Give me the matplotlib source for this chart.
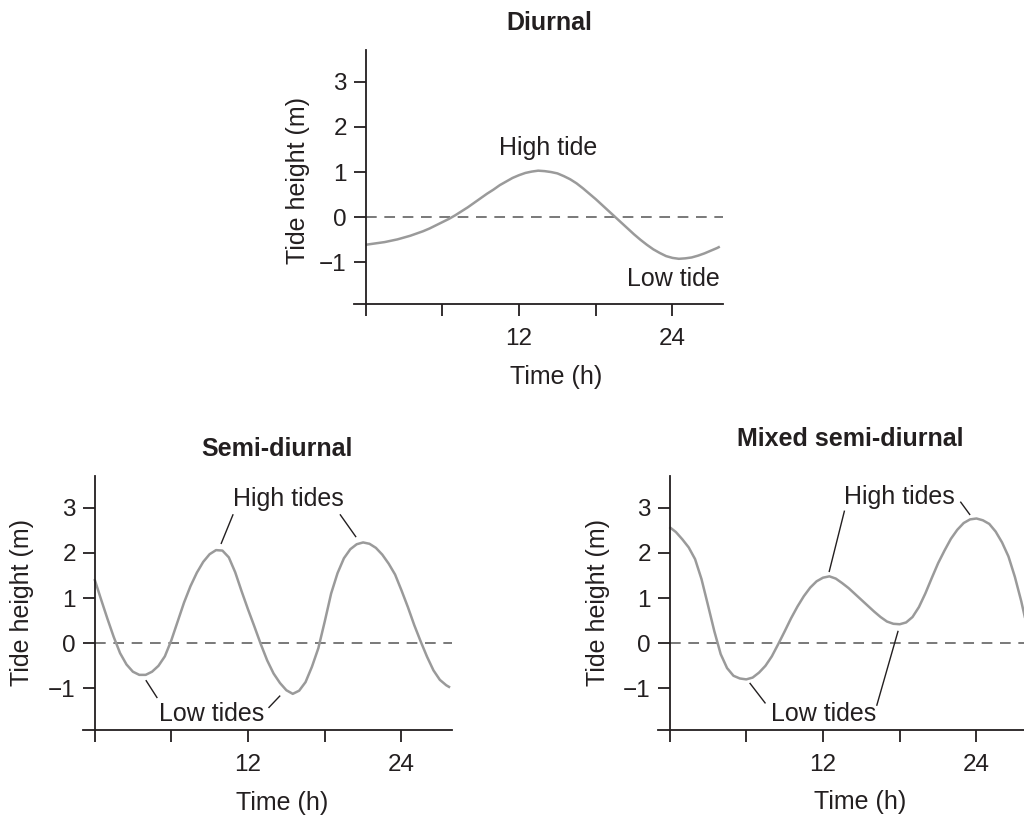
import matplotlib
matplotlib.use("Agg")
import matplotlib.pyplot as plt

plt.rcParams['font.family'] = ['Liberation Sans', 'DejaVu Sans']

# ---------------- data ----------------
diurnal_t = [0, 0.5, 1, 1.5, 2, 2.5, 3, 3.5, 4, 4.5, 5, 5.5, 6, 6.5, 7, 7.5, 8,
             8.5, 9, 9.5, 10, 10.5, 11, 11.5, 12, 12.5, 13, 13.5, 14, 14.5, 15,
             15.5, 16, 16.5, 17, 17.5, 18, 18.5, 19, 19.5, 20, 20.5, 21, 21.5,
             22, 22.5, 23, 23.5, 24, 24.5, 25, 25.5, 26, 26.5, 27, 27.5, 27.7]
diurnal_h = [-0.61, -0.59, -0.57, -0.55, -0.52, -0.49, -0.45, -0.41, -0.36,
             -0.31, -0.25, -0.18, -0.11, -0.04, 0.04, 0.13, 0.22, 0.32, 0.42,
             0.52, 0.61, 0.71, 0.79, 0.87, 0.93, 0.98, 1.01, 1.03, 1.02, 1.00,
             0.97, 0.91, 0.84, 0.75, 0.64, 0.52, 0.40, 0.27, 0.14, 0.01, -0.12,
             -0.25, -0.38, -0.50, -0.61, -0.71, -0.79, -0.86, -0.90, -0.92,
             -0.91, -0.89, -0.85, -0.80, -0.74, -0.68, -0.65]

semi_t = [0, 0.5, 1, 1.5, 2, 2.5, 3, 3.5, 4, 4.5, 5, 5.5, 6, 6.5, 7, 7.5, 8, 8.5,
          9, 9.5, 10, 10.5, 11, 11.5, 12, 12.5, 13, 13.5, 14, 14.5, 15, 15.5, 16,
          16.5, 17, 17.5, 18, 18.5, 19, 19.5, 20, 20.5, 21, 21.5, 22, 22.5, 23,
          23.5, 24, 24.5, 25, 25.5, 26, 26.5, 27, 27.5, 27.8]
semi_h = [1.42, 0.98, 0.55, 0.14, -0.22, -0.47, -0.63, -0.70, -0.70, -0.63,
          -0.50, -0.29, 0.06, 0.48, 0.90, 1.26, 1.56, 1.80, 1.97, 2.06, 2.05,
          1.90, 1.57, 1.15, 0.75, 0.37, -0.02, -0.38, -0.67, -0.88, -1.04, -1.12,
          -1.05, -0.86, -0.52, -0.11, 0.48, 1.10, 1.55, 1.88, 2.08, 2.19, 2.23,
          2.20, 2.11, 1.96, 1.76, 1.52, 1.17, 0.80, 0.40, 0.04, -0.30, -0.60,
          -0.81, -0.93, -0.98]

mixed_t = [0, 0.5, 1, 1.5, 2, 2.5, 3, 3.5, 4, 4.5, 5, 5.5, 6, 6.5, 7, 7.5, 8, 8.5,
           9, 9.5, 10, 10.5, 11, 11.5, 12, 12.5, 13, 13.5, 14, 14.5, 15, 15.5, 16,
           16.5, 17, 17.5, 18, 18.5, 19, 19.5, 20, 20.5, 21, 21.5, 22, 22.5, 23,
           23.5, 24, 24.5, 25, 25.5, 26, 26.5, 27, 27.5, 28]
mixed_h = [2.57, 2.46, 2.30, 2.12, 1.86, 1.42, 0.85, 0.27, -0.24, -0.55, -0.72,
           -0.78, -0.80, -0.76, -0.65, -0.50, -0.29, -0.02, 0.26, 0.55, 0.81, 1.04,
           1.23, 1.37, 1.45, 1.48, 1.43, 1.33, 1.22, 1.09, 0.96, 0.83, 0.70, 0.58,
           0.48, 0.43, 0.42, 0.46, 0.58, 0.80, 1.10, 1.44, 1.77, 2.05, 2.31, 2.51,
           2.66, 2.74, 2.76, 2.72, 2.64, 2.47, 2.23, 1.92, 1.47, 0.93, 0.30]

xticks = [0, 6, 12, 18, 24]
xticklabels = ['', '', '12', '', '24']
yticks = [-1, 0, 1, 2, 3]
yticklabels = ['\u22121', '0', '1', '2', '3']

# ---------------- figure ----------------
W, H = 1024, 821
fig = plt.figure(figsize=(W / 100, H / 100), dpi=100)

INK = '#231f20'
CURVE = '#9a9a9a'
FS = 18
TFS = 17.5


def fx(x):
    return x / W


def fy(y):
    return 1 - y / H


def make_axes(left_px, top_px, w_px, h_px, t, h):
    ax = fig.add_axes([fx(left_px), fy(top_px + h_px), w_px / W, h_px / H])
    ax.set_xlim(-0.9, 27.95)
    ax.set_ylim(-1.92, 3.70)
    for s in ['top', 'right']:
        ax.spines[s].set_visible(False)
    ax.spines['left'].set_position(('data', 0))
    for s in ['left', 'bottom']:
        ax.spines[s].set_linewidth(1.3)
        ax.spines[s].set_color(INK)
    ax.set_xticks(xticks)
    ax.set_xticklabels(xticklabels)
    ax.set_yticks(yticks)
    ax.set_yticklabels(yticklabels)
    ax.tick_params(axis='both', direction='out', length=8.5, width=1.3,
                   color=INK, labelcolor=INK, labelsize=TFS)
    ax.tick_params(axis='x', pad=9)
    ax.tick_params(axis='y', pad=5)
    ax.axhline(0, xmin=0.9 / 28.85, xmax=1, color='#555555', lw=1.1,
               dashes=(7, 5))
    ax.plot(t, h, color=CURVE, lw=1.8, solid_capstyle='butt',
            solid_joinstyle='round', clip_on=True)
    ax.patch.set_visible(False)
    return ax


def ann_line(ax, p0, p1):
    ax.plot([p0[0], p1[0]], [p0[1], p1[1]], color=INK, lw=1.0)


# top: Diurnal
ax1 = make_axes(354, 50, 369, 254, diurnal_t, diurnal_h)
ax1.text(14.24, 1.53, 'High tide', ha='center', va='center', fontsize=FS,
         color=INK)
ax1.text(24.1, -1.36, 'Low tide', ha='center', va='center', fontsize=FS,
         color=INK)
fig.text(fx(549), fy(23), 'Diurnal', ha='center', va='center', fontsize=FS,
         fontweight='bold', color=INK)
fig.text(fx(298), fy(180), 'Tide height (m)', rotation=90, ha='center',
         va='center', fontsize=FS, color=INK)
fig.text(fx(556), fy(377), 'Time (h)', ha='center', va='center', fontsize=FS,
         color=INK)

# bottom left: Semi-diurnal
ax2 = make_axes(83, 476, 369, 254, semi_t, semi_h)
ax2.text(15.13, 3.19, 'High tides', ha='center', va='center', fontsize=FS,
         color=INK)
ax2.text(9.13, -1.56, 'Low tides', ha='center', va='center', fontsize=FS,
         color=INK)
ann_line(ax2, (10.82, 2.84), (9.91, 2.21))
ann_line(ax2, (19.22, 2.84), (20.42, 2.36))
ann_line(ax2, (4.04, -0.83), (4.88, -1.20))
ann_line(ax2, (14.48, -1.17), (13.64, -1.42))
fig.text(fx(277), fy(449), 'Semi-diurnal', ha='center', va='center',
         fontsize=FS, fontweight='bold', color=INK)
fig.text(fx(22), fy(603), 'Tide height (m)', rotation=90, ha='center',
         va='center', fontsize=FS, color=INK)
fig.text(fx(282), fy(803), 'Time (h)', ha='center', va='center', fontsize=FS,
         color=INK)

# bottom right: Mixed semi-diurnal
ax3 = make_axes(658, 476, 369, 254, mixed_t, mixed_h)
ax3.text(17.98, 3.24, 'High tides', ha='center', va='center', fontsize=FS,
         color=INK)
ax3.text(12.02, -1.56, 'Low tides', ha='center', va='center', fontsize=FS,
         color=INK)
ann_line(ax3, (13.67, 2.92), (12.49, 1.59))
ann_line(ax3, (22.77, 3.12), (23.47, 2.85))
ann_line(ax3, (6.30, -0.89), (7.47, -1.32))
ann_line(ax3, (17.86, 0.26), (16.21, -1.37))
fig.text(fx(850), fy(439), 'Mixed semi-diurnal', ha='center', va='center',
         fontsize=FS, fontweight='bold', color=INK)
fig.text(fx(598), fy(603), 'Tide height (m)', rotation=90, ha='center',
         va='center', fontsize=FS, color=INK)
fig.text(fx(860), fy(802), 'Time (h)', ha='center', va='center', fontsize=FS,
         color=INK)

fig.savefig('out.png', dpi=100)
